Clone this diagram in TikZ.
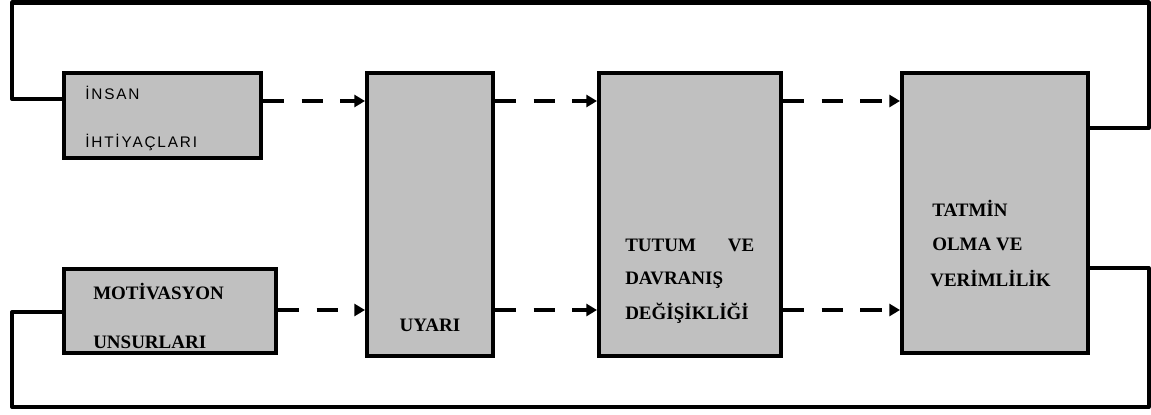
\documentclass[tikz,border=0pt]{standalone}
\usepackage{fontspec}
\setmainfont{Liberation Serif}
\newfontfamily\sanslbl[LetterSpace=12]{Liberation Sans}
\usetikzlibrary{arrows.meta}
\definecolor{boxgray}{RGB}{192,192,192}
\begin{document}
\begin{tikzpicture}[x=0.75pt,y=-0.75pt,
  blk/.style={draw=black, line width=3pt, fill=boxgray, inner sep=0pt},
  lbl/.style={anchor=base west, inner sep=0pt, font=\fontsize{14.25pt}{16pt}\selectfont\bfseries},
  slbl/.style={anchor=base west, inner sep=0pt, font=\sanslbl\fontsize{11.5pt}{13pt}\selectfont},
  darr/.style={line width=3pt, dash pattern=on 16pt off 13pt, -{Triangle[length=8pt,width=9pt]}},
  fb/.style={line width=3pt, line join=round}]
\useasboundingbox (0,0) rectangle (1151,414);
% boxes
\node[blk, minimum width=147.75pt, minimum height=63.75pt] (b1) at (162.5,115.5) {};
\node[blk, minimum width=159pt, minimum height=63pt] (b2) at (170,311) {};
\node[blk, minimum width=94.5pt, minimum height=212.25pt] (uy) at (430,214.5) {};
\node[blk, minimum width=136.5pt, minimum height=212.25pt] (tu) at (690,214.5) {};
\node[blk, minimum width=139.5pt, minimum height=210pt] (ta) at (995,213) {};
% labels
\node[slbl] (t1a) at (85,99) {İNSAN};
\node[slbl] (t1b) at (85,147) {İHTİYAÇLARI};
\node[lbl] (t2a) at (93,299) {MOTİVASYON};
\node[lbl] (t2b) at (93,348) {UNSURLARI};
\node[lbl, anchor=base] (t3) at (430,331) {UYARI};
\node[lbl] (t4a) at (625,251) {TUTUM\hspace{24pt}VE};
\node[lbl] (t4b) at (625,284) {DAVRANIŞ};
\node[lbl] (t4c) at (625,319) {DEĞİŞİKLİĞİ};
\node[lbl] (t5a) at (932,216) {TATMİN};
\node[lbl] (t5b) at (932,250) {OLMA VE};
\node[lbl] (t5c) at (930,286) {VERİMLİLİK};
% dashed arrows
\coordinate (rA) at (0,101);
\coordinate (rB) at (0,310);
\draw[darr] (b1.east |- rA) -- (uy.west |- rA);
\draw[darr] (uy.east |- rA) -- (tu.west |- rA);
\draw[darr] (tu.east |- rA) -- (ta.west |- rA);
\draw[darr] (b2.east |- rB) -- (uy.west |- rB);
\draw[darr] (uy.east |- rB) -- (tu.west |- rB);
\draw[darr] (tu.east |- rB) -- (ta.west |- rB);
% feedback loops
\coordinate (fbA) at (1148.5,128);
\coordinate (fbTopL) at (12,2.5);
\coordinate (inA) at (0,99);
\draw[fb] (ta.east |- fbA) -- (fbA) |- (fbTopL) |- (b1.west |- inA);
\coordinate (fbB) at (1148.5,268);
\coordinate (fbBotL) at (12,407);
\coordinate (inB) at (0,312);
\draw[fb] (ta.east |- fbB) -- (fbB) |- (fbBotL) |- (b2.west |- inB);
\end{tikzpicture}
\end{document}
